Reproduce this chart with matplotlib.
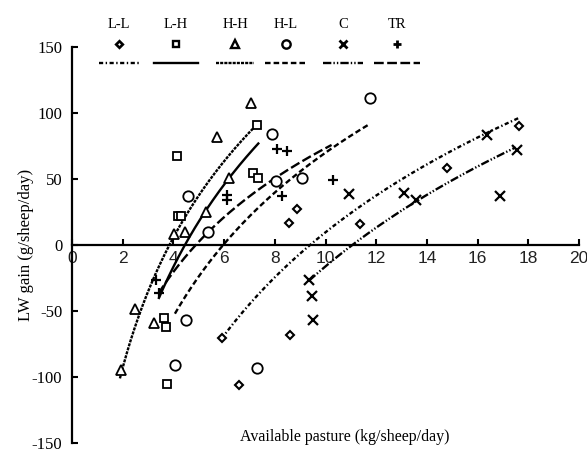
import numpy as np
import matplotlib
matplotlib.use("Agg")
import matplotlib.pyplot as plt
from matplotlib.lines import Line2D

plt.rcParams['lines.scale_dashes'] = False
plt.rcParams['axes.unicode_minus'] = False

# ---------------- data ----------------
series = ["L-L", "L-H", "H-H", "H-L", "C", "TR"]

ll_x = [5.9, 6.6, 8.6, 8.55, 8.89, 11.37, 14.8, 17.65]
ll_y = [-70.7, -105.9, -68, 16.7, 27.5, 16, 58.2, 90]

lh_x = [3.63, 3.71, 3.76, 4.16, 4.18, 4.3, 7.13, 7.35, 7.28]
lh_y = [-55, -62.4, -105.6, 67.4, 21.7, 21.7, 54.9, 50.6, 90.8]

hh_x = [1.92, 2.49, 3.23, 4.02, 4.46, 5.27, 5.71, 6.18, 7.05]
hh_y = [-94.6, -48.6, -59.4, 8.7, 9.7, 24.7, 82, 50.4, 107.6]

hl_x = [4.08, 4.5, 4.56, 5.35, 7.28, 7.88, 8.03, 9.08, 11.76]
hl_y = [-90.6, -56.9, 37, 10.2, -93.3, 83.8, 48.6, 51, 111]

c_x = [9.35, 9.45, 9.52, 10.93, 13.1, 13.57, 16.36, 16.9, 17.54]
c_y = [-26.5, -38.6, -56.9, 39, 39.3, 33.8, 83.3, 37.3, 72]

tr_x = [3.31, 3.43, 6.1, 6.1, 8.07, 8.49, 8.27, 10.31]
tr_y = [-26.5, -36, 38, 34, 72.5, 71.4, 37.5, 49.4]

# logarithmic trend lines: y = a + b*ln(x), over [x_start, x_end]
trend_a = [-342.2, -229.3, -191.7, -241.6, -386.9, -162.2]
trend_b = [152.8, 153.5, 142.4, 135.3, 161.0, 102.3]
trend_x0 = [5.9, 3.43, 1.89, 4.06, 9.35, 3.40]
trend_x1 = [17.6, 7.35, 7.28, 11.76, 17.5, 10.24]

x_ticks = list(range(0, 21, 2))
y_ticks = list(range(-150, 151, 50))

# ---------------- styles ----------------
markers = ['D', 's', '^', 'o', 'x', '+']
msizes = [4.2, 5.5, 7.5, 7.5, 7.5, 7.5]
mews = [1.5, 1.3, 1.3, 1.3, 1.6, 1.6]
dashes = [(0, (3, 1.8, 1, 1.8)),
          'solid',
          (0, (2.2, 0.8)),
          (0, (4, 2.2)),
          (0, (6, 1.5, 1, 1.5, 1, 1.5)),
          (0, (7, 2.5))]

serif = ['Liberation Serif', 'DejaVu Serif']
sans = ['Liberation Sans Narrow', 'Liberation Sans', 'DejaVu Sans']

W, H = 587, 453
fig = plt.figure(figsize=(W / 100, H / 100), dpi=100)
ax = fig.add_axes([72 / W, 1 - 443 / H, 507 / W, 396 / H])

xs_all = [ll_x, lh_x, hh_x, hl_x, c_x, tr_x]
ys_all = [ll_y, lh_y, hh_y, hl_y, c_y, tr_y]

for i in range(6):
    xx = np.linspace(trend_x0[i], trend_x1[i], 200)
    yy = trend_a[i] + trend_b[i] * np.log(xx)
    ax.plot(xx, yy, color='black', lw=1.7, linestyle=dashes[i], zorder=2)
    ax.plot(xs_all[i], ys_all[i], linestyle='none', marker=markers[i],
            ms=msizes[i], mew=mews[i], mec='black',
            mfc='white' if markers[i] not in ('x', '+') else 'black',
            zorder=3, clip_on=False)

ax.set_xlim(0, 20)
ax.set_ylim(-150, 150)
ax.spines['top'].set_visible(False)
ax.spines['right'].set_visible(False)
ax.spines['bottom'].set_position(('data', 0))
for s in ('left', 'bottom'):
    ax.spines[s].set_linewidth(1.6)

ax.set_xticks(x_ticks)
ax.set_yticks(y_ticks)
ax.tick_params(axis='both', direction='in', length=4, width=1.5)
ax.tick_params(axis='y', pad=7)
ax.tick_params(axis='x', pad=4)
for lab in ax.get_yticklabels():
    lab.set_fontfamily(serif)
    lab.set_fontsize(12)
for lab in ax.get_xticklabels():
    lab.set_fontfamily(sans)
    lab.set_fontsize(12.5)
    lab.set_color('#222222')

ax.set_ylabel("LW gain (g/sheep/day)", family=serif, fontsize=12)
ax.yaxis.set_label_coords(-0.075, 0.5)
ax.text(0.538, 0.015, "Available pasture (kg/sheep/day)", transform=ax.transAxes,
        ha='center', va='center', family=serif, fontsize=11.5)

# ---------------- custom legend ----------------
leg_cx = [119, 176, 235, 286, 343, 397]
leg_half = [20, 22, 19, 21, 20, 23]
def fx(px):
    return (px - 72) / 507
def fy(py):
    return (443 - py) / 396
for i in range(6):
    cx = fx(leg_cx[i])
    ax.text(cx, fy(25), series[i], transform=ax.transAxes, ha='center', va='center',
            family=serif, fontsize=10.5, clip_on=False)
    ax.add_line(Line2D([cx], [fy(44)], transform=ax.transAxes, marker=markers[i],
                       ms=msizes[i] * 0.8, mew=mews[i] + 0.4, mec='black',
                       mfc='white' if markers[i] not in ('x', '+') else 'black',
                       linestyle='none', clip_on=False))
    ax.add_line(Line2D([fx(leg_cx[i] - leg_half[i]), fx(leg_cx[i] + leg_half[i])],
                       [fy(63), fy(63)], transform=ax.transAxes, color='black', lw=1.7,
                       linestyle=dashes[i], clip_on=False))

fig.savefig("out.png", dpi=100)
